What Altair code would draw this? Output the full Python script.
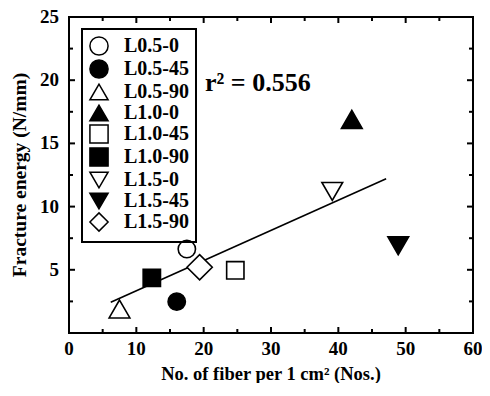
import altair as alt
import pandas as pd

# Data
names = ["L0.5-0", "L0.5-45", "L0.5-90", "L1.0-0", "L1.0-45", "L1.0-90",
         "L1.5-0", "L1.5-45", "L1.5-90"]
fibers = [17.5, 16.0, 7.5, 42.0, 24.7, 12.3, 39.1, 48.9, 19.4]
energy = [6.64, 2.48, 1.9, 16.9, 4.96, 4.36, 11.2, 6.9, 5.2]
shapes = ["circle", "circle", "triangle-up", "triangle-up", "square", "square",
          "triangle-down", "triangle-down", "diamond"]
fills = ["white", "black", "white", "black", "white", "black", "white", "black", "white"]

fit_x = [6.2, 47.1]
fit_y = [2.43, 12.2]

r2_label = ["r\u00b2 = 0.556"]
r2_x = [20.2]
r2_y = [19.15]

x_major = [0, 10, 20, 30, 40, 50, 60]
x_minor = [5, 15, 25, 35, 45, 55]
y_major = [0, 5, 10, 15, 20, 25]
y_minor = [2.5, 7.5, 12.5, 17.5, 22.5]
y_labels = [5, 10, 15, 20, 25]
x_title = ["No. of fiber per 1 cm\u00b2 (Nos.)"]
y_title = ["Fracture energy (N/mm)"]

pts = pd.DataFrame({"name": names, "x": fibers, "y": energy})
fit = pd.DataFrame({"x": fit_x, "y": fit_y})
ann = pd.DataFrame({"t": r2_label, "x": r2_x, "y": r2_y})
xt = pd.DataFrame({"v": x_major + x_minor,
                   "k": ["major"] * len(x_major) + ["minor"] * len(x_minor)})
yt = pd.DataFrame({"v": y_major + y_minor,
                   "k": ["major"] * len(y_major) + ["minor"] * len(y_minor)})
xl = pd.DataFrame({"v": x_major})
yl = pd.DataFrame({"v": y_labels})
xtt = pd.DataFrame({"t": x_title})
ytt = pd.DataFrame({"t": y_title})

W, H = 404, 316
MAJ, MIN = 6, 4
FONT = "Liberation Serif"
xs = alt.Scale(domain=[0, 60], nice=False, zero=False)
ys = alt.Scale(domain=[0, 25], nice=False, zero=False)

XAX = alt.Axis(values=x_major, orient="bottom", ticks=False, domain=False, grid=False,
               labelPadding=7, labelFontSize=19, title=x_title[0],
               titleFontSize=18.5, titlePadding=6)
YAX = alt.Axis(values=y_labels, orient="left", ticks=False, domain=False, grid=False,
               labelPadding=10, labelFontSize=19, title=y_title[0],
               titleFontSize=19.5, titlePadding=8)

line = alt.Chart(fit).mark_line(color="black", strokeWidth=1.6).encode(
    x=alt.X("x:Q", scale=xs, axis=XAX),
    y=alt.Y("y:Q", scale=ys, axis=YAX),
)

legend = alt.Legend(title=None, orient="none", legendX=13, legendY=12,
                    strokeColor="black", padding=7, labelFont=FONT,
                    labelFontSize=20, labelFontWeight="bold", labelColor="black",
                    symbolSize=330, symbolStrokeWidth=1.5,
                    rowPadding=-3, labelOffset=15)


def point_layer(members, size):
    return alt.Chart(pts).transform_filter(
        alt.FieldOneOfPredicate(field="name", oneOf=members)
    ).mark_point(filled=True, strokeWidth=1.6, opacity=1, size=size).encode(
        x=alt.X("x:Q", scale=xs, axis=None),
        y=alt.Y("y:Q", scale=ys, axis=None),
        shape=alt.Shape("name:N", scale=alt.Scale(domain=names, range=shapes), legend=legend),
        fill=alt.Fill("name:N", scale=alt.Scale(domain=names, range=fills), legend=legend),
        stroke=alt.Stroke("name:N", scale=alt.Scale(domain=names, range=["black"] * len(names)),
                          legend=legend),
    )


pts_round = point_layer(["L0.5-0", "L0.5-45", "L1.0-45", "L1.0-90"], 300)
pts_tri = point_layer(["L0.5-90", "L1.0-0", "L1.5-0", "L1.5-45"], 430)
pts_dia = point_layer(["L1.5-90"], 640)

text = alt.Chart(ann).mark_text(font=FONT, fontSize=26, fontWeight="bold", color="black",
                                align="left", baseline="alphabetic").encode(
    x=alt.X("x:Q", scale=xs, axis=None),
    y=alt.Y("y:Q", scale=ys, axis=None),
    text="t:N",
)

# inward ticks on all four sides
ticks = []
for kind, ln in (("major", MAJ), ("minor", MIN)):
    for y0, y1 in ((H, H - ln), (0, ln)):
        ticks.append(
            alt.Chart(xt).transform_filter(alt.datum.k == kind).mark_rule(
                stroke="black", strokeWidth=2, opacity=1
            ).encode(
                x=alt.X("v:Q", scale=xs, axis=None),
                y=alt.YValue(y0), y2=alt.Y2Value(y1),
            )
        )
    for x0, x1 in ((0, ln), (W, W - ln)):
        ticks.append(
            alt.Chart(yt).transform_filter(alt.datum.k == kind).mark_rule(
                stroke="black", strokeWidth=2, opacity=1
            ).encode(
                y=alt.Y("v:Q", scale=ys, axis=None),
                x=alt.XValue(x0), x2=alt.X2Value(x1),
            )
        )

# tick labels and axis titles drawn as text marks
x_lab = alt.Chart(xl).mark_text(font=FONT, fontSize=19, fontWeight="bold", color="black",
                                align="center", baseline="top").encode(
    x=alt.X("v:Q", scale=xs, axis=None),
    y=alt.YValue(H + 7),
    text=alt.Text("v:Q", format="d"),
)
y_lab = alt.Chart(yl).mark_text(font=FONT, fontSize=19, fontWeight="bold", color="black",
                                align="right", baseline="middle").encode(
    y=alt.Y("v:Q", scale=ys, axis=None),
    x=alt.XValue(-10),
    text=alt.Text("v:Q", format="d"),
)
x_ttl = alt.Chart(xtt).mark_text(font=FONT, fontSize=18.5, fontWeight="bold", color="black",
                                 align="center", baseline="top").encode(
    x=alt.XValue(W / 2),
    y=alt.YValue(H + 32),
    text="t:N",
)
y_ttl = alt.Chart(ytt).mark_text(font=FONT, fontSize=19.5, fontWeight="bold", color="black",
                                 align="center", baseline="middle", angle=270).encode(
    x=alt.XValue(-49),
    y=alt.YValue(H / 2),
    text="t:N",
)

chart = alt.layer(line, *ticks, pts_round, pts_tri, pts_dia, text,
                  x_lab, y_lab, x_ttl, y_ttl).properties(
    width=W, height=H,
    autosize=alt.AutoSizeParams(type="none"),
    padding={"left": 61, "top": 9, "right": 9, "bottom": 50},
    background="white",
).configure_view(
    stroke="black", strokeWidth=2
).configure_axis(
    labelFont=FONT, labelFontWeight="bold", labelColor="black",
    titleFont=FONT, titleFontWeight="bold", titleColor="black",
).configure_legend(
    strokeWidth=2
)

chart.save("out.html", embed_options={"renderer": "svg", "actions": False})
